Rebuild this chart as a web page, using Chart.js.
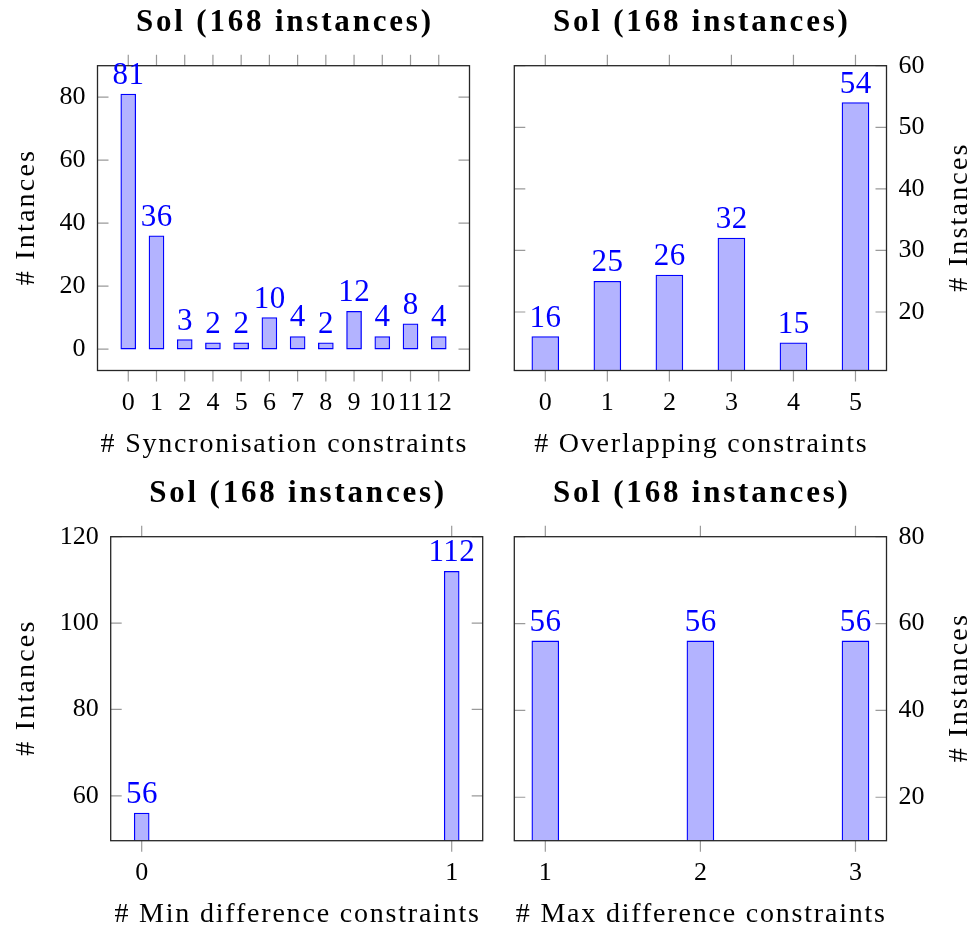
<!DOCTYPE html>
<html>
<head>
<meta charset="utf-8">
<script src="https://cdn.jsdelivr.net/npm/chart.js@4/dist/chart.umd.min.js"></script>
<style>
  html, body { margin: 0; padding: 0; background: #ffffff; }
  #wrap { position: relative; width: 975px; height: 931px; background: #ffffff; }
  canvas { position: absolute; }
</style>
</head>
<body>
<div id="wrap">
  <canvas id="c1" width="487" height="465" style="left:0px;top:0px;width:487px;height:465px"></canvas>
  <canvas id="c2" width="488" height="465" style="left:487px;top:0px;width:488px;height:465px"></canvas>
  <canvas id="c3" width="487" height="466" style="left:0px;top:465px;width:487px;height:466px"></canvas>
  <canvas id="c4" width="488" height="466" style="left:487px;top:465px;width:488px;height:466px"></canvas>
</div>
<script>
// ---- data ----
const chartTitle = 'Sol (168 instances)';

const syncCategories = ['0', '1', '2', '4', '5', '6', '7', '8', '9', '10', '11', '12'];
const syncCounts = [81, 36, 3, 2, 2, 10, 4, 2, 12, 4, 8, 4];
const syncYTicks = [0, 20, 40, 60, 80];

const overlapCategories = ['0', '1', '2', '3', '4', '5'];
const overlapCounts = [16, 25, 26, 32, 15, 54];
const overlapYTicks = [20, 30, 40, 50, 60];

const minDiffCategories = ['0', '1'];
const minDiffCounts = [56, 112];
const minDiffYTicks = [60, 80, 100, 120];

const maxDiffCategories = ['1', '2', '3'];
const maxDiffCounts = [56, 56, 56];
const maxDiffYTicks = [20, 40, 60, 80];

// ---- styling ----
const SERIF = '"Liberation Serif", "Times New Roman", serif';
const BAR_FILL = 'rgb(179,179,255)';
const BAR_LINE = 'rgb(0,0,255)';
const FRAME = '#262626';
const TICK = '#9a9a9a';
const TICK_LEN = 11;

// draw text centred on (x, y) with extra tracking between letters
function spacedText(ctx, text, x, y, spacing) {
  ctx.letterSpacing = spacing + 'px';
  const w = ctx.measureText(text).width - spacing;
  ctx.textAlign = 'left';
  ctx.fillText(text, x - w / 2, y);
  ctx.letterSpacing = '0px';
}

// frame, pgf-style tick marks, value labels and text
const pgfDecor = {
  id: 'pgfDecor',
  afterDatasetsDraw(chart) {
    const ctx = chart.ctx;
    const a = chart.chartArea;
    const xs = chart.scales.x, ys = chart.scales.y;
    ctx.save();
    // tick marks: x outside (top and bottom), y inside (both sides)
    ctx.strokeStyle = TICK;
    ctx.lineWidth = 1.2;
    ctx.beginPath();
    xs.ticks.forEach(t => {
      const px = xs.getPixelForValue(t.value);
      ctx.moveTo(px, a.top); ctx.lineTo(px, a.top - TICK_LEN);
      ctx.moveTo(px, a.bottom); ctx.lineTo(px, a.bottom + TICK_LEN);
    });
    ys.ticks.forEach(t => {
      const py = ys.getPixelForValue(t.value);
      ctx.moveTo(a.left, py); ctx.lineTo(a.left + TICK_LEN, py);
      ctx.moveTo(a.right, py); ctx.lineTo(a.right - TICK_LEN, py);
    });
    ctx.stroke();
    // axis frame
    ctx.strokeStyle = FRAME;
    ctx.lineWidth = 1.3;
    ctx.strokeRect(a.left, a.top, a.right - a.left, a.bottom - a.top);
    // values above bars
    const meta = chart.getDatasetMeta(0);
    const vals = chart.data.datasets[0].data;
    ctx.fillStyle = BAR_LINE;
    ctx.font = '31px ' + SERIF;
    ctx.textBaseline = 'alphabetic';
    meta.data.forEach((bar, i) => {
      spacedText(ctx, String(vals[i].y), bar.x, bar.y - 10, 0.5);
    });
    ctx.restore();
  },
  afterDraw(chart) {
    const ctx = chart.ctx;
    const a = chart.chartArea;
    const o = chart.options.plugins.pgfDecor;
    const cx = (a.left + a.right) / 2;
    const cy = (a.top + a.bottom) / 2;
    ctx.save();
    ctx.fillStyle = '#000';
    ctx.textBaseline = 'alphabetic';
    ctx.font = 'bold 31px ' + SERIF;
    spacedText(ctx, o.title, cx, a.top - 34.5, 2.8);
    ctx.font = '28px ' + SERIF;
    spacedText(ctx, o.xTitle, cx, a.bottom + 81, 1.8);
    ctx.translate(o.yTitleX, cy);
    ctx.rotate(-Math.PI / 2);
    spacedText(ctx, o.yTitle, 0, 0, 2.2);
    ctx.restore();
  }
};

function makePanel(id, categories, counts, yTicks, opt) {
  const points = counts.map((v, i) => ({ x: i, y: v }));
  return new Chart(document.getElementById(id), {
    type: 'bar',
    data: {
      datasets: [{
        data: points,
        backgroundColor: BAR_FILL,
        borderColor: BAR_LINE,
        borderWidth: 1.3,
        borderSkipped: false,
        barThickness: opt.barPx
      }]
    },
    options: {
      responsive: false,
      animation: false,
      devicePixelRatio: 1,
      layout: { padding: opt.padding },
      events: [],
      plugins: {
        legend: { display: false },
        tooltip: { enabled: false },
        title: { display: false },
        pgfDecor: {
          title: chartTitle,
          xTitle: opt.xTitle,
          yTitle: opt.yTitle,
          yTitleX: opt.yTitleX
        }
      },
      scales: {
        x: {
          type: 'linear',
          offset: false,
          min: opt.xMin,
          max: opt.xMax,
          grid: { display: false, drawTicks: false },
          border: { display: false },
          afterBuildTicks: s => { s.ticks = categories.map((c, i) => ({ value: i })); },
          afterFit: s => { s.height = opt.xAxisH; },
          ticks: {
            autoSkip: false,
            maxRotation: 0,
            padding: 17,
            color: '#000',
            font: { family: SERIF, size: 26 },
            callback: v => categories[v]
          }
        },
        y: {
          type: 'linear',
          position: opt.yPos,
          beginAtZero: false,
          min: opt.yMin,
          max: opt.yMax,
          grid: { display: false, drawTicks: false },
          border: { display: false },
          afterBuildTicks: s => { s.ticks = yTicks.map(v => ({ value: v })); },
          afterFit: s => { s.width = opt.yAxisW; },
          ticks: {
            padding: 12,
            color: '#000',
            font: { family: SERIF, size: 26 },
            callback: v => String(v)
          }
        }
      }
    },
    plugins: [pgfDecor]
  });
}

makePanel('c1', syncCategories, syncCounts, syncYTicks, {
  xMin: -1.09, xMax: 12.09, yMin: -6.8, yMax: 90, barPx: 15,
  yPos: 'left', yAxisW: 97.5, xAxisH: 94.5,
  padding: { top: 65.7, right: 17.5, left: 0, bottom: 0 },
  xTitle: '# Syncronisation constraints', yTitle: '# Intances', yTitleX: 33.5
});

makePanel('c2', overlapCategories, overlapCounts, overlapYTicks, {
  xMin: -0.5, xMax: 5.5, yMin: 10.5, yMax: 60, barPx: 27,
  yPos: 'right', yAxisW: 88.5, xAxisH: 94.5,
  padding: { top: 65.7, right: 0, left: 27.3, bottom: 0 },
  xTitle: '# Overlapping constraints', yTitle: '# Instances', yTitleX: 479.5
});

makePanel('c3', minDiffCategories, minDiffCounts, minDiffYTicks, {
  xMin: -0.1, xMax: 1.1, yMin: 49.6, yMax: 120, barPx: 15,
  yPos: 'left', yAxisW: 110.7, xAxisH: 90.3,
  padding: { top: 71.7, right: 4.3, left: 0, bottom: 0 },
  xTitle: '# Min difference constraints', yTitle: '# Intances', yTitleX: 33.5
});

makePanel('c4', maxDiffCategories, maxDiffCounts, maxDiffYTicks, {
  xMin: -0.2, xMax: 2.2, yMin: 10, yMax: 80, barPx: 27,
  yPos: 'right', yAxisW: 88.5, xAxisH: 90.3,
  padding: { top: 71.7, right: 0, left: 27.3, bottom: 0 },
  xTitle: '# Max difference constraints', yTitle: '# Instances', yTitleX: 479.5
});
</script>
</body>
</html>
